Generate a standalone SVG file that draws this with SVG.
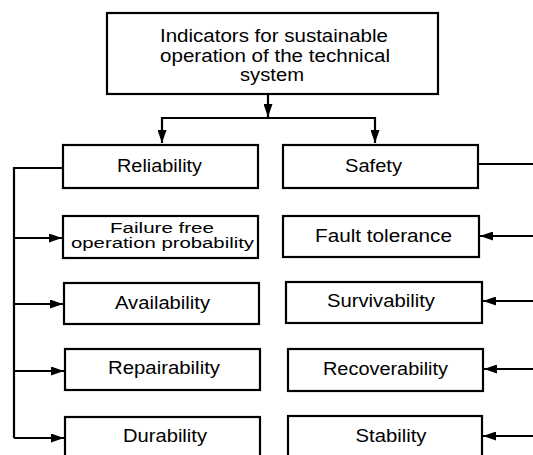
<svg xmlns="http://www.w3.org/2000/svg" width="533" height="455" viewBox="0 0 533 455">
<defs>
<marker id="ah" viewBox="0 0 13 9" refX="13" refY="4.5" markerWidth="13" markerHeight="9" markerUnits="userSpaceOnUse" orient="auto">
<path d="M0,0 L13,4.5 L0,9 Z" fill="#000"/>
</marker>
<style>
.box{fill:#fff;stroke:#000;stroke-width:2.2}
.t{font-family:"Liberation Sans",Arial,sans-serif;font-size:17.5px;fill:#000;text-anchor:middle}
.s{font-size:15.5px}
.c{fill:none;stroke:#000;stroke-width:2.2}
</style>
</defs>
<rect width="533" height="455" fill="#fff"/>
<g id="connectors">
<path class="c" d="M268,94 V117" marker-end="url(#ah)"/>
<path class="c" d="M162,118 H375"/>
<path class="c" d="M162,117 V143" marker-end="url(#ah)"/>
<path class="c" d="M375,117 V143" marker-end="url(#ah)"/>
<path class="c" d="M63,168 H14 V438"/>
<path class="c" d="M14,238 H62" marker-end="url(#ah)"/>
<path class="c" d="M14,304 H63" marker-end="url(#ah)"/>
<path class="c" d="M14,371 H64" marker-end="url(#ah)"/>
<path class="c" d="M14,438 H64" marker-end="url(#ah)"/>
<path class="c" d="M478,164 H533"/>
<path class="c" d="M533,236 H480" marker-end="url(#ah)"/>
<path class="c" d="M533,301 H483" marker-end="url(#ah)"/>
<path class="c" d="M533,369 H484" marker-end="url(#ah)"/>
<path class="c" d="M533,436 H483" marker-end="url(#ah)"/>
</g>
<g id="root">
<rect class="box" x="107" y="13" width="331" height="81"/>
<text class="t" x="274" y="42" textLength="228" lengthAdjust="spacingAndGlyphs">Indicators for sustainable</text>
<text class="t" x="275" y="62" textLength="230" lengthAdjust="spacingAndGlyphs">operation of the technical</text>
<text class="t" x="272" y="81" textLength="64" lengthAdjust="spacingAndGlyphs">system</text>
</g>
<g id="reliability">
<rect class="box" x="63" y="145" width="195" height="43"/>
<text class="t" x="159.5" y="172" textLength="85" lengthAdjust="spacingAndGlyphs">Reliability</text>
</g>
<g id="safety">
<rect class="box" x="283" y="145" width="195" height="43"/>
<text class="t" x="373.5" y="172" textLength="57" lengthAdjust="spacingAndGlyphs">Safety</text>
</g>
<g id="failure-free">
<rect class="box" x="63" y="216" width="195" height="42"/>
<text class="t s"><tspan x="162" y="232.5" textLength="104" lengthAdjust="spacingAndGlyphs">Failure free</tspan><tspan x="162.5" y="248" textLength="183" lengthAdjust="spacingAndGlyphs">operation probability</tspan></text>
</g>
<g id="availability">
<rect class="box" x="64" y="283" width="195" height="41"/>
<text class="t" x="162.5" y="309" textLength="95" lengthAdjust="spacingAndGlyphs">Availability</text>
</g>
<g id="repairability">
<rect class="box" x="65" y="349" width="195" height="41"/>
<text class="t" x="164" y="374" textLength="112" lengthAdjust="spacingAndGlyphs">Repairability</text>
</g>
<g id="durability">
<rect class="box" x="65" y="417" width="195" height="45"/>
<text class="t" x="165" y="442" textLength="84" lengthAdjust="spacingAndGlyphs">Durability</text>
</g>
<g id="fault-tolerance">
<rect class="box" x="283" y="216" width="196" height="41"/>
<text class="t" x="383.5" y="242" textLength="137" lengthAdjust="spacingAndGlyphs">Fault tolerance</text>
</g>
<g id="survivability">
<rect class="box" x="286" y="282" width="196" height="41"/>
<text class="t" x="381" y="307" textLength="108" lengthAdjust="spacingAndGlyphs">Survivability</text>
</g>
<g id="recoverability">
<rect class="box" x="288" y="349" width="195" height="42"/>
<text class="t" x="385.5" y="375" textLength="125" lengthAdjust="spacingAndGlyphs">Recoverability</text>
</g>
<g id="stability">
<rect class="box" x="288" y="416" width="194" height="45"/>
<text class="t" x="391" y="442" textLength="71" lengthAdjust="spacingAndGlyphs">Stability</text>
</g>
</svg>
